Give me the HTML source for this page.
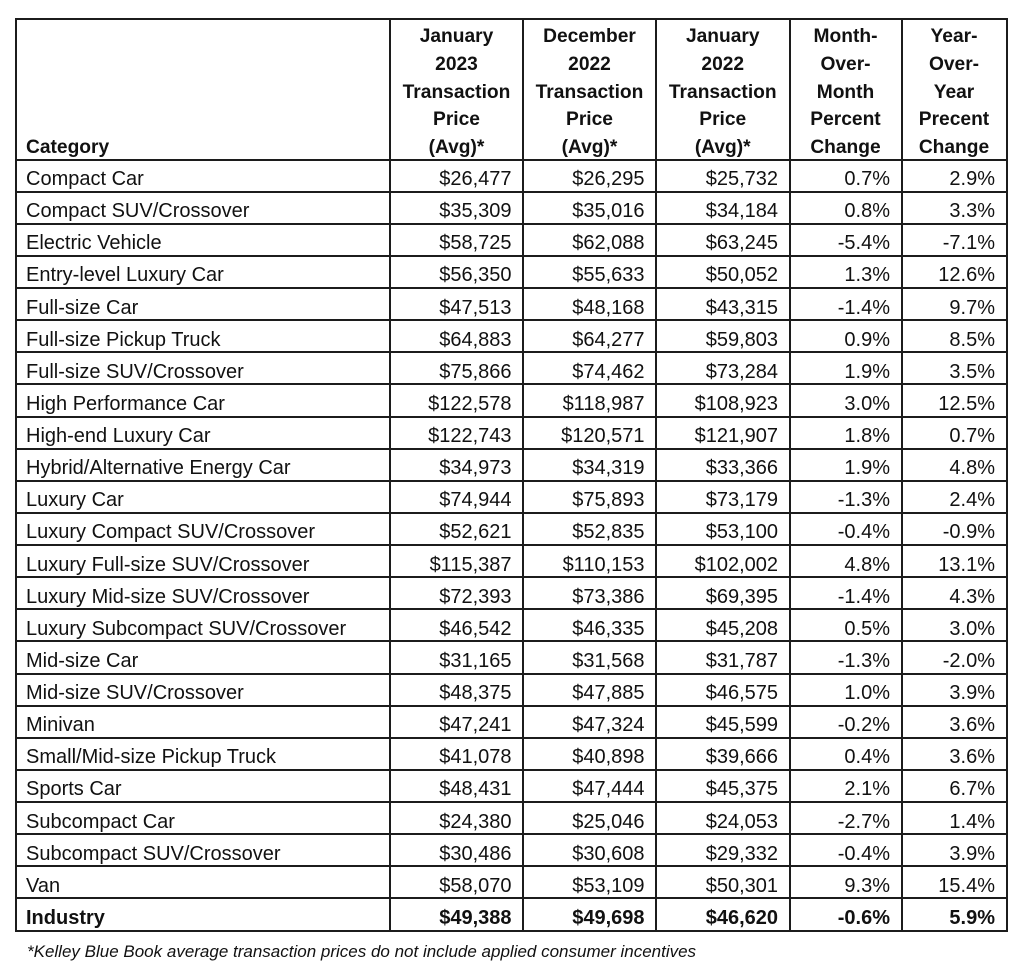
<!DOCTYPE html>
<html>
<head>
<meta charset="utf-8">
<style>
  html,body{margin:0;padding:0;background:#fff;}
  body{width:1024px;height:965px;position:relative;overflow:hidden;font-family:"Liberation Sans",Arial,sans-serif;color:#111;}
  .h{position:absolute;left:15px;width:992.5px;height:2px;background:#1c1c1c;}
  .v{position:absolute;top:18px;height:913.5px;width:2px;background:#1c1c1c;}
  .hd{position:absolute;top:23.3px;font-weight:bold;font-size:19.2px;line-height:27.7px;text-align:center;}
  .r{position:absolute;left:0;width:1024px;height:20px;font-size:20px;line-height:20px;white-space:nowrap;}
  .r div{position:absolute;top:0;text-align:right;}
  .r .c0{left:26px;text-align:left;}
  .r .c1{left:390px;width:121.5px;}
  .r .c2{left:523px;width:121.5px;}
  .r .c3{left:656px;width:122px;}
  .r .c4{left:789.5px;width:100.5px;}
  .r .c5{left:901.5px;width:93.5px;}
  .b{font-weight:bold;}
  .fn{position:absolute;left:27px;top:942px;font-size:17px;line-height:20px;font-style:italic;white-space:nowrap;}
</style>
</head>
<body>
<!-- horizontal lines -->
<div class="h" style="top:18px"></div>
<div class="h" style="top:158.5px"></div>
<div class="h" style="top:190.625px"></div>
<div class="h" style="top:222.75px"></div>
<div class="h" style="top:254.875px"></div>
<div class="h" style="top:287px"></div>
<div class="h" style="top:319.125px"></div>
<div class="h" style="top:351.25px"></div>
<div class="h" style="top:383.375px"></div>
<div class="h" style="top:415.5px"></div>
<div class="h" style="top:447.625px"></div>
<div class="h" style="top:479.75px"></div>
<div class="h" style="top:511.875px"></div>
<div class="h" style="top:544px"></div>
<div class="h" style="top:576.125px"></div>
<div class="h" style="top:608.25px"></div>
<div class="h" style="top:640.375px"></div>
<div class="h" style="top:672.5px"></div>
<div class="h" style="top:704.625px"></div>
<div class="h" style="top:736.75px"></div>
<div class="h" style="top:768.875px"></div>
<div class="h" style="top:801px"></div>
<div class="h" style="top:833.125px"></div>
<div class="h" style="top:865.25px"></div>
<div class="h" style="top:897.375px"></div>
<div class="h" style="top:929.5px"></div>
<!-- vertical lines -->
<div class="v" style="left:15px"></div>
<div class="v" style="left:389px"></div>
<div class="v" style="left:522px"></div>
<div class="v" style="left:655px"></div>
<div class="v" style="left:788.5px"></div>
<div class="v" style="left:900.5px"></div>
<div class="v" style="left:1005.5px"></div>

<!-- header -->
<div class="hd" style="left:26px;text-align:left;width:300px"><br><br><br><br>Category</div>
<div class="hd" style="left:390px;width:133px">January<br>2023<br>Transaction<br>Price<br>(Avg)*</div>
<div class="hd" style="left:523px;width:133px">December<br>2022<br>Transaction<br>Price<br>(Avg)*</div>
<div class="hd" style="left:656px;width:133.5px">January<br>2022<br>Transaction<br>Price<br>(Avg)*</div>
<div class="hd" style="left:789.5px;width:112px">Month-<br>Over-<br>Month<br>Percent<br>Change</div>
<div class="hd" style="left:901.5px;width:105px">Year-<br>Over-<br>Year<br>Precent<br>Change</div>

<!-- rows -->
<div class="r" style="top:169px"><div class="c0">Compact Car</div><div class="c1">$26,477</div><div class="c2">$26,295</div><div class="c3">$25,732</div><div class="c4">0.7%</div><div class="c5">2.9%</div></div>
<div class="r" style="top:201.125px"><div class="c0">Compact SUV/Crossover</div><div class="c1">$35,309</div><div class="c2">$35,016</div><div class="c3">$34,184</div><div class="c4">0.8%</div><div class="c5">3.3%</div></div>
<div class="r" style="top:233.25px"><div class="c0">Electric Vehicle</div><div class="c1">$58,725</div><div class="c2">$62,088</div><div class="c3">$63,245</div><div class="c4">-5.4%</div><div class="c5">-7.1%</div></div>
<div class="r" style="top:265.375px"><div class="c0">Entry-level Luxury Car</div><div class="c1">$56,350</div><div class="c2">$55,633</div><div class="c3">$50,052</div><div class="c4">1.3%</div><div class="c5">12.6%</div></div>
<div class="r" style="top:297.5px"><div class="c0">Full-size Car</div><div class="c1">$47,513</div><div class="c2">$48,168</div><div class="c3">$43,315</div><div class="c4">-1.4%</div><div class="c5">9.7%</div></div>
<div class="r" style="top:329.625px"><div class="c0">Full-size Pickup Truck</div><div class="c1">$64,883</div><div class="c2">$64,277</div><div class="c3">$59,803</div><div class="c4">0.9%</div><div class="c5">8.5%</div></div>
<div class="r" style="top:361.75px"><div class="c0">Full-size SUV/Crossover</div><div class="c1">$75,866</div><div class="c2">$74,462</div><div class="c3">$73,284</div><div class="c4">1.9%</div><div class="c5">3.5%</div></div>
<div class="r" style="top:393.875px"><div class="c0">High Performance Car</div><div class="c1">$122,578</div><div class="c2">$118,987</div><div class="c3">$108,923</div><div class="c4">3.0%</div><div class="c5">12.5%</div></div>
<div class="r" style="top:426px"><div class="c0">High-end Luxury Car</div><div class="c1">$122,743</div><div class="c2">$120,571</div><div class="c3">$121,907</div><div class="c4">1.8%</div><div class="c5">0.7%</div></div>
<div class="r" style="top:458.125px"><div class="c0">Hybrid/Alternative Energy Car</div><div class="c1">$34,973</div><div class="c2">$34,319</div><div class="c3">$33,366</div><div class="c4">1.9%</div><div class="c5">4.8%</div></div>
<div class="r" style="top:490.25px"><div class="c0">Luxury Car</div><div class="c1">$74,944</div><div class="c2">$75,893</div><div class="c3">$73,179</div><div class="c4">-1.3%</div><div class="c5">2.4%</div></div>
<div class="r" style="top:522.375px"><div class="c0">Luxury Compact SUV/Crossover</div><div class="c1">$52,621</div><div class="c2">$52,835</div><div class="c3">$53,100</div><div class="c4">-0.4%</div><div class="c5">-0.9%</div></div>
<div class="r" style="top:554.5px"><div class="c0">Luxury Full-size SUV/Crossover</div><div class="c1">$115,387</div><div class="c2">$110,153</div><div class="c3">$102,002</div><div class="c4">4.8%</div><div class="c5">13.1%</div></div>
<div class="r" style="top:586.625px"><div class="c0">Luxury Mid-size SUV/Crossover</div><div class="c1">$72,393</div><div class="c2">$73,386</div><div class="c3">$69,395</div><div class="c4">-1.4%</div><div class="c5">4.3%</div></div>
<div class="r" style="top:618.75px"><div class="c0">Luxury Subcompact SUV/Crossover</div><div class="c1">$46,542</div><div class="c2">$46,335</div><div class="c3">$45,208</div><div class="c4">0.5%</div><div class="c5">3.0%</div></div>
<div class="r" style="top:650.875px"><div class="c0">Mid-size Car</div><div class="c1">$31,165</div><div class="c2">$31,568</div><div class="c3">$31,787</div><div class="c4">-1.3%</div><div class="c5">-2.0%</div></div>
<div class="r" style="top:683px"><div class="c0">Mid-size SUV/Crossover</div><div class="c1">$48,375</div><div class="c2">$47,885</div><div class="c3">$46,575</div><div class="c4">1.0%</div><div class="c5">3.9%</div></div>
<div class="r" style="top:715.125px"><div class="c0">Minivan</div><div class="c1">$47,241</div><div class="c2">$47,324</div><div class="c3">$45,599</div><div class="c4">-0.2%</div><div class="c5">3.6%</div></div>
<div class="r" style="top:747.25px"><div class="c0">Small/Mid-size Pickup Truck</div><div class="c1">$41,078</div><div class="c2">$40,898</div><div class="c3">$39,666</div><div class="c4">0.4%</div><div class="c5">3.6%</div></div>
<div class="r" style="top:779.375px"><div class="c0">Sports Car</div><div class="c1">$48,431</div><div class="c2">$47,444</div><div class="c3">$45,375</div><div class="c4">2.1%</div><div class="c5">6.7%</div></div>
<div class="r" style="top:811.5px"><div class="c0">Subcompact Car</div><div class="c1">$24,380</div><div class="c2">$25,046</div><div class="c3">$24,053</div><div class="c4">-2.7%</div><div class="c5">1.4%</div></div>
<div class="r" style="top:843.625px"><div class="c0">Subcompact SUV/Crossover</div><div class="c1">$30,486</div><div class="c2">$30,608</div><div class="c3">$29,332</div><div class="c4">-0.4%</div><div class="c5">3.9%</div></div>
<div class="r" style="top:875.75px"><div class="c0">Van</div><div class="c1">$58,070</div><div class="c2">$53,109</div><div class="c3">$50,301</div><div class="c4">9.3%</div><div class="c5">15.4%</div></div>
<div class="r b" style="top:907.875px"><div class="c0">Industry</div><div class="c1">$49,388</div><div class="c2">$49,698</div><div class="c3">$46,620</div><div class="c4">-0.6%</div><div class="c5">5.9%</div></div>

<div class="fn">*Kelley Blue Book average transaction prices do not include applied consumer incentives</div>
</body>
</html>
